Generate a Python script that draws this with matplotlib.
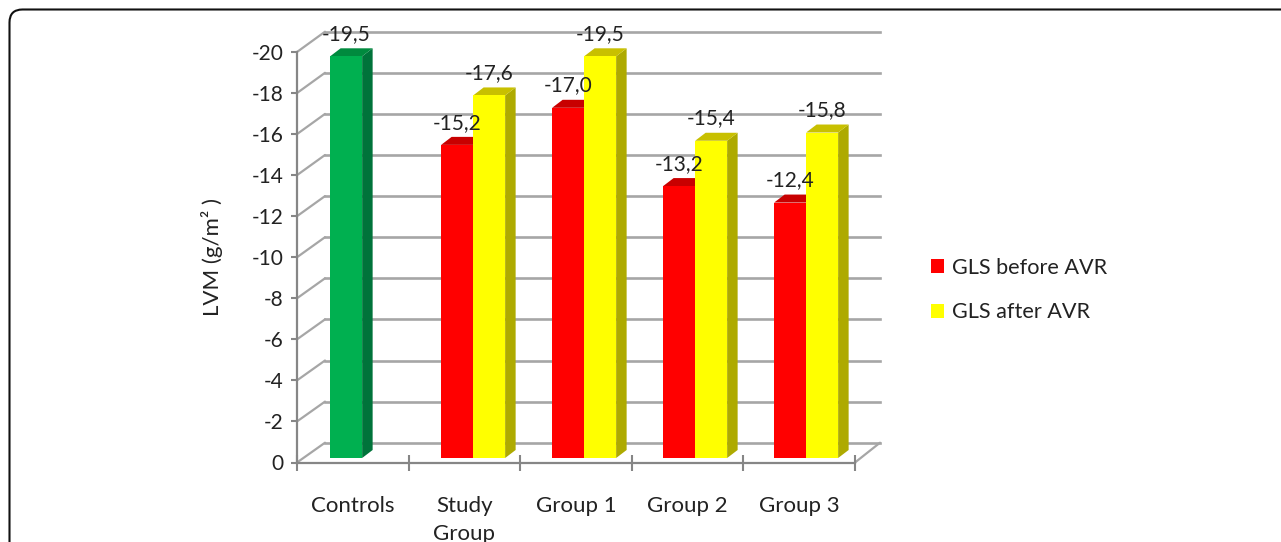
import matplotlib
matplotlib.use("Agg")
import matplotlib.pyplot as plt
from matplotlib.patches import Polygon, FancyBboxPatch, ConnectionPatch

plt.rcParams['font.family'] = ['Lato', 'DejaVu Sans']

W, H = 1281, 542
categories = ['Controls', 'Study\nGroup', 'Group 1', 'Group 2', 'Group 3']
y_ticks = [0, -2, -4, -6, -8, -10, -12, -14, -16, -18, -20]
controls = [-19.5, None, None, None, None]
before = [None, -15.2, -17.0, -13.2, -12.4]
after = [None, -17.6, -19.5, -15.4, -15.8]
series_labels = ['GLS before AVR', 'GLS after AVR']

TXT = '#222222'
FS_LAB = 15
FS_CAT = 16
FS_LEG = 15.6
GRID = '#a6a6a6'
AXC = '#868686'


def px_axes(fig, l, t, r, b, z):
    ax = fig.add_axes([l / W, 1 - b / H, (r - l) / W, (b - t) / H], zorder=z)
    ax.patch.set_alpha(0)
    return ax


fig = plt.figure(figsize=(W / 100, H / 100), dpi=100, facecolor='white')

# rounded outer frame, open to the right and bottom
frame = FancyBboxPatch((0.095, -1), 20, (H - 9.5) / 100 + 1,
                       boxstyle='round,pad=0,rounding_size=0.13',
                       transform=fig.dpi_scale_trans, fc='none', ec='#111111', lw=1.5, zorder=5)
fig.add_artist(frame)

# back wall with gridlines
back = px_axes(fig, 325, 31.7, 880, 442.7, 0)
back.set_xlim(0, 5)
back.set_ylim(0, -20)
back.set_yticks(y_ticks)
back.set_xticks([])
back.tick_params(left=False, labelleft=False)
back.grid(True, axis='y', color=GRID, lw=1.9)
for s in back.spines.values():
    s.set_visible(False)
for g in back.get_ygridlines():
    g.set_clip_on(False)

# front axis
front = px_axes(fig, 297, 52, 855, 462.5, 2)
front.set_xlim(0, 5)
front.set_ylim(0, -20)
front.set_yticks(y_ticks)
front.set_yticklabels([str(v) if v else '0' for v in y_ticks], fontsize=FS_LAB, color=TXT)
front.set_xticks(range(6))
front.set_xticklabels([])
front.set_xticks([i + 0.5 for i in range(5)], minor=True)
front.set_xticklabels(categories, minor=True, fontsize=FS_CAT, color=TXT, linespacing=1.5)
front.tick_params(axis='x', which='major', direction='inout', length=11, width=1.5, color=AXC)
front.tick_params(axis='x', which='minor', length=0, pad=24)
front.tick_params(axis='y', direction='out', length=4.5, width=1.5, color=AXC, pad=5)
front.spines['top'].set_visible(False)
front.spines['right'].set_visible(False)
for s in ('left', 'bottom'):
    front.spines[s].set_color(AXC)
    front.spines[s].set_linewidth(1.6)
front.set_ylabel('LVM (g/m² )', fontsize=FS_CAT, color=TXT, labelpad=21)

# floor / side wall connectors between the front axis and the back wall
for v in y_ticks:
    fig.add_artist(ConnectionPatch((0, v), (0, v), coordsA=front.transData, coordsB=back.transData,
                                   color=GRID, lw=1.6, zorder=1))
fig.add_artist(ConnectionPatch((5, 0), (5, 0), coordsA=front.transData, coordsB=back.transData,
                               color=GRID, lw=1.6, zorder=1))

# bar plane
bars = px_axes(fig, 296.5, 458 - 20 * 20.6, 851.5, 458, 3)
bars.set_xlim(0, 5)
bars.set_ylim(0, -20)
bars.axis('off')

BW = 32 / 111
DX = 10.5 / 111
DY = 8 / 20.6


def draw(values, offset, face, top, side):
    handle = None
    for i, v in enumerate(values):
        if v is None:
            continue
        x0 = i + offset
        x1 = x0 + BW
        c = bars.bar(x0, v, width=BW, align='edge', color=face, zorder=3)
        if handle is None:
            handle = c
        bars.add_patch(Polygon([(x1, 0), (x1 + DX, -DY), (x1 + DX, v - DY), (x1, v)],
                               fc=side, ec='none', zorder=2))
        bars.add_patch(Polygon([(x0, v), (x1, v), (x1 + DX, v - DY), (x0 + DX, v - DY)],
                               fc=top, ec='none', zorder=2))
        bars.annotate(f'{v:.1f}'.replace('.', ','), (x0 + BW / 2, v), xytext=(0, 16),
                      textcoords='offset points', ha='center', va='center',
                      fontsize=FS_LAB, color=TXT, zorder=6, annotation_clip=False)
    return handle


R_OFF = 0.303
Y_OFF = R_OFF + BW
draw(controls, R_OFF, '#00b050', '#008a3e', '#00733a')
h1 = draw(before, R_OFF, '#ff0000', '#c80000', '#a80000')
h2 = draw(after, Y_OFF, '#ffff00', '#c8c000', '#aeaa00')

leg = bars.legend([h1, h2], series_labels, loc='upper left',
                  bbox_to_anchor=(931 / W, 1 - 258 / H), bbox_transform=fig.transFigure,
                  frameon=False, fontsize=FS_LEG, handlelength=0.6, handleheight=0.6,
                  handletextpad=0.36, labelspacing=1.13, borderpad=0, borderaxespad=0,
                  labelcolor=TXT)

fig.savefig('out.png', dpi=100)
